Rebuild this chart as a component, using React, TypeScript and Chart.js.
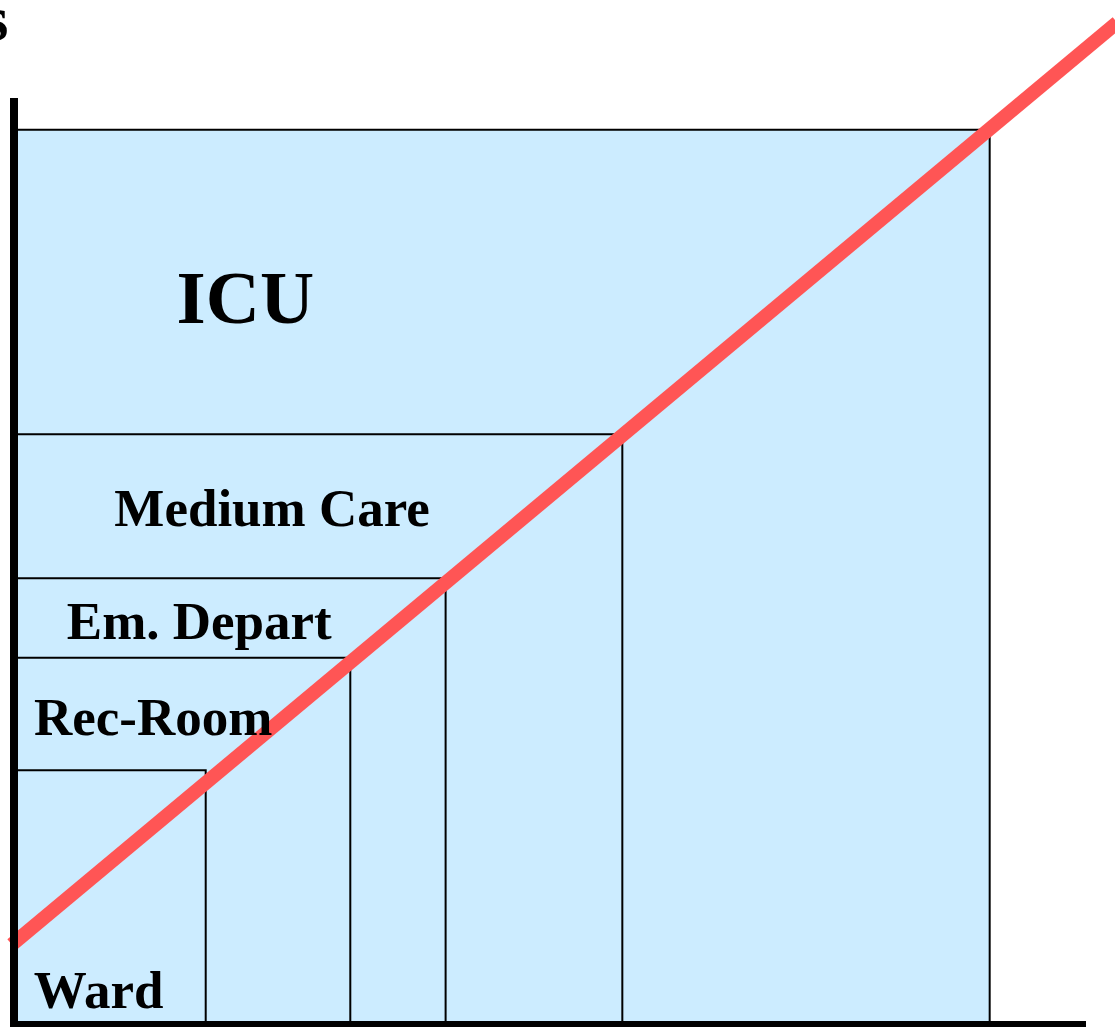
import React, { useEffect, useRef } from "react";
import { Chart, registerables } from "chart.js";

Chart.register(...registerables);

// Care levels (nested areas), from smallest to largest
const units = ["Ward", "Rec-Room", "Em. Depart", "Medium Care", "ICU"];
const unitWidths = [17.9, 31.4, 40.3, 56.8, 91.1];
const unitHeights = [27.6, 39.8, 48.4, 64.0, 97.0];

// Label anchor points (data units): centre x, baseline y
const labelX = [7.9, 13.0, 17.3, 24.1, 21.6];
const labelY = [1.84, 31.4, 41.8, 54.1, 76.1];

// Diagonal trend line
const trendX = [-0.2, 103];
const trendY = [8.7, 108.6];

const FILL = "#CCECFF";
const RED = "#FF5555";

export default function App() {
  const ref = useRef<HTMLCanvasElement | null>(null);

  useEffect(() => {
    if (!ref.current) return;

    // index order: Ward ... ICU; ICU (last) is drawn first, so its fill sits at the bottom
    const boxDatasets = units.map((name, i) => ({
      label: name,
      data: [
        { x: 0, y: unitHeights[i] },
        { x: unitWidths[i], y: unitHeights[i] },
        { x: unitWidths[i], y: 0 },
      ],
      borderColor: "#000",
      borderWidth: 2,
      pointRadius: 0,
      tension: 0,
      showLine: true,
      fill: i === units.length - 1 ? "origin" : false,
      backgroundColor: FILL,
    }));

    const trendDataset = {
      label: "trend",
      data: trendX.map((x, i) => ({ x, y: trendY[i] })),
      borderColor: RED,
      borderWidth: 14,
      borderCapStyle: "butt" as const,
      pointRadius: 0,
      showLine: true,
      fill: false,
      clip: false as any,
    };

    const labelPlugin = {
      id: "unitLabels",
      afterDatasetsDraw(chart: any) {
        const { ctx, scales } = chart;
        const xs = scales.x;
        const ys = scales.y;
        ctx.save();
        ctx.fillStyle = "#000";
        ctx.textAlign = "center";
        ctx.textBaseline = "alphabetic";
        units.forEach((name, i) => {
          const size = name === "ICU" ? 75 : 53;
          ctx.font = `bold ${size}px "Liberation Serif", "Times New Roman", serif`;
          ctx.fillText(name, xs.getPixelForValue(labelX[i]), ys.getPixelForValue(labelY[i]));
        });
        // cut-off axis title glyph at top-left
        ctx.textAlign = "right";
        ctx.font = `bold 64px "Liberation Serif", "Times New Roman", serif`;
        ctx.fillText("s", 8.5, 40);
        ctx.restore();
      },
    };

    const chart = new Chart(ref.current, {
      type: "scatter",
      data: { datasets: [trendDataset as any, ...boxDatasets] },
      options: {
        animation: false,
        responsive: false,
        layout: { padding: { left: 14, right: 30, top: 102, bottom: 2 } },
        plugins: {
          legend: { display: false },
          tooltip: { enabled: false },
        },
        scales: {
          x: {
            type: "linear",
            min: 0,
            max: 100,
            grid: { display: false, drawTicks: false },
            ticks: { display: false },
            border: { display: true, color: "#000", width: 8, z: 1 },
          },
          y: {
            type: "linear",
            min: 0,
            max: 100,
            grid: { display: false, drawTicks: false },
            ticks: { display: false },
            border: { display: true, color: "#000", width: 8, z: 1 },
          },
        },
      },
      plugins: [labelPlugin],
    });

    return () => chart.destroy();
  }, []);

  return (
    <div style={{ position: "fixed", left: 0, top: 0, width: 1115, height: 1027, background: "#fff" }}>
      <canvas ref={ref} width={1115} height={1027} style={{ display: "block" }} />
    </div>
  );
}
